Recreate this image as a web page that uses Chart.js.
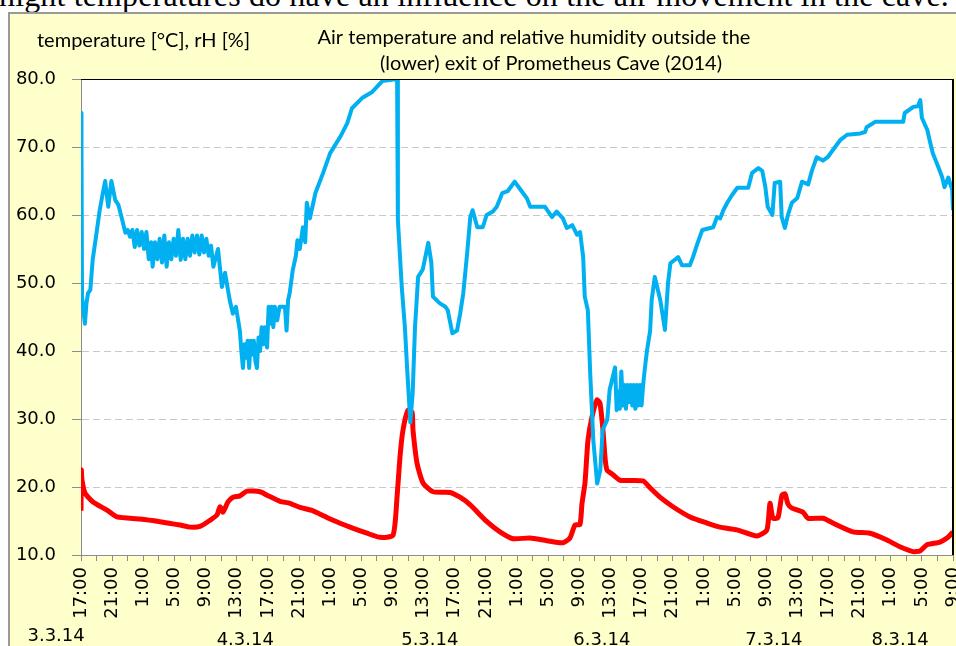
<!DOCTYPE html>
<html>
<head>
<meta charset="utf-8">
<script src="https://cdn.jsdelivr.net/npm/chart.js@4"></script>
<style>
  html, body { margin: 0; padding: 0; background: #fff; overflow: hidden; }
  #page { position: relative; width: 956px; height: 646px; overflow: hidden; }
  #prose { position: absolute; left: -1px; top: -21px; font: 32px "Liberation Serif", serif; line-height: 32px; white-space: nowrap; color: #000; letter-spacing: 0.15px; }
  #box { position: absolute; left: 8px; top: 12px; width: 960px; height: 640px; background: #FFFFCC; border-left: 2px solid #9a9a9a; border-top: 2px solid #9a9a9a; }
  #wrap { position: absolute; left: 10px; top: 14px; width: 946px; height: 632px; }
</style>
</head>
<body>
<div id="page">
  <div id="prose">night temperatures do have an influence on the air movement in the cave.</div>
  <div id="box"></div>
  <div id="wrap"><canvas id="chart" width="946" height="632"></canvas></div>
</div>
<script>
// hours counted from 3.3.14 17:00
const startHour = 17;
const rhHours = [0,0.06,0.13,0.26,0.5,0.7,0.9,1.2,1.5,2.0,2.4,2.8,3.1,3.5,3.9,4.4,4.8,5.2,5.7,6.0,6.3,6.6,6.9,7.2,7.5,7.8,8.1,8.4,8.7,9.0,9.2,9.5,9.8,10.1,10.4,10.7,11.0,11.3,11.6,11.9,12.2,12.5,12.8,13.1,13.4,13.7,14.0,14.3,14.6,14.9,15.2,15.5,15.8,16.1,16.4,16.7,17.0,17.6,18.1,18.5,19.1,19.5,19.9,20.4,20.6,20.8,21.0,21.2,21.4,21.6,21.8,22.0,22.2,22.4,22.6,22.8,23.0,23.2,23.4,23.6,23.9,24.1,24.3,24.5,24.7,24.9,25.2,25.5,25.9,26.2,26.4,26.6,26.8,27.2,27.6,27.8,28.1,28.5,28.8,29.0,29.4,30.1,31.1,32.0,33.3,34.2,34.8,36.1,37.4,38.7,40.6,40.7,41.2,41.6,41.9,42.3,42.6,42.9,43.3,43.9,44.6,45.0,45.2,46.1,46.8,47.1,47.7,48.3,48.7,49.1,49.6,50.0,50.3,50.9,51.6,52.1,52.9,53.4,54.1,54.8,55.7,56.6,57.3,57.7,59.6,60.5,61.1,61.9,62.4,63.1,63.7,64.1,64.5,64.7,65.1,65.4,65.8,66.3,66.7,67.0,67.6,67.9,68.6,68.8,69.0,69.2,69.4,69.6,69.8,70.0,70.2,70.4,70.6,70.8,71.0,71.2,71.4,71.6,71.8,72.0,72.2,72.4,72.7,73.1,73.3,73.7,74.4,75.0,75.4,75.7,76.7,77.2,78.2,78.6,79.2,79.8,81.2,81.7,82.1,82.5,83.0,83.6,84.3,85.7,86.2,87.0,87.5,87.9,88.2,88.8,89.1,89.8,90.0,90.4,90.8,91.3,92.0,92.6,93.4,93.9,94.5,95.3,95.9,96.6,97.5,98.4,100.1,100.7,100.9,102.0,105.6,105.8,106.9,107.5,107.8,108.0,108.7,109.0,109.4,110.1,110.6,110.9,111.4,111.9,112];
const rhValues = [75,71,48,46.5,44,47,48.5,49,53.4,57.4,60.7,63.2,65,61.2,65,62.2,61.5,59.7,57.4,57.8,56.8,57.8,55.3,57.8,55.5,57.5,55,57.5,53.5,56,52.4,56,53.5,56.5,53,57,52.4,56,53.5,56.5,54,57.8,53.4,56.5,53.5,56.5,54,57,54.5,57,54.2,57,54.5,56.5,54,55.5,52.4,55,49.4,51.5,47.5,45.5,46.5,43,40,37.5,41,39,41.5,37.5,41.5,39.5,41.5,38.5,37.5,42,40,43.5,41,43.5,40.5,46.5,44,46.5,43.5,46.5,44.5,46.5,46.5,46.5,43,47.5,48.5,51.9,54,56.3,55,58.2,56,61.8,59.5,63.2,66.2,69.1,71.5,73.5,75.7,77.2,78.1,79.7,80,59.3,49.4,43.5,37.2,29.5,33.8,43.5,50.9,52,55.9,53,48,47,46.5,46,42.6,43,45.5,48.5,54.4,59.7,60.7,58.2,58.2,60,60.5,61.2,63.2,63.5,64.9,63.5,62.4,61.2,61.2,59.7,60.5,59.5,58.1,58.5,57.1,57.5,53.8,48,46,36.8,26.9,20.5,22.5,28.4,29.9,34.3,37.6,31.3,34,31.5,37,32,35,31.5,35,32.5,35,32,35,31.5,35,32,35,32,35,37.2,40.1,43,47.5,50.9,47.5,43.1,50,52.9,53.8,52.6,52.6,53.8,55.9,57.8,58.2,59.7,59.5,60.7,61.8,62.9,64,64,66.2,66.9,66.5,64.1,61.2,60,64.7,64.9,59.7,58.1,60,61.8,62.5,64.9,64.5,66.6,68.5,68,68.5,69.6,71,71.8,72,72.2,72.9,73.7,73.7,75,75.9,76,76.9,74.3,72.5,71,69.1,67.1,65.6,64.1,65.5,63.7,60.7];
const tempHours = [0,0.04,0.13,0.51,1.54,3.34,4.62,7.58,10.15,12.72,14.0,15.28,16.57,17.47,17.85,18.24,18.88,19.52,20.42,21.32,22.99,23.89,25.56,26.84,28.13,29.8,32.37,34.55,36.73,38.4,40.07,40.59,40.97,41.36,42.0,42.52,42.64,43.16,43.93,45.21,47.39,48.68,49.96,52.14,53.81,55.48,57.67,59.85,61.91,62.8,63.45,64.09,64.35,64.73,65.12,65.63,66.27,66.66,67.04,67.3,67.56,68.33,69.23,72.18,73.08,74.36,76.03,78.22,80.4,82.07,84.25,86.82,88.1,88.49,88.88,89.52,90.03,90.42,90.8,91.31,92.72,93.37,95.3,96.58,99.15,101.33,103.52,105.19,106.86,107.76,108.66,110.33,111.36,112];
const tempValues = [16.5,22.5,21,19.1,17.8,16.6,15.6,15.3,14.9,14.4,14.1,14.2,15.1,15.9,17.1,16.3,17.8,18.5,18.7,19.4,19.3,18.8,17.9,17.6,17.0,16.5,15.1,14.1,13.2,12.6,12.9,18.5,24.4,28.4,31.3,31,28.4,23.5,20.6,19.3,19.2,18.5,17.4,14.9,13.4,12.4,12.5,12.1,11.8,12.5,14.4,14.5,17.6,20.6,26.9,30.3,32.8,32.3,28.4,24.4,22.5,21.8,21.0,20.9,19.9,18.5,17.1,15.6,14.7,14.1,13.7,12.8,13.7,17.6,15.4,15.5,18.8,19.0,17.5,16.9,16.3,15.4,15.4,14.7,13.4,13.2,12.2,11.2,10.5,10.6,11.5,11.9,12.6,13.4];
const yTicks = [10, 20, 30, 40, 50, 60, 70, 80];
// multi-level date labels and where Excel placed them (hours from start)
const dateLabels = ['3.3.14', '4.3.14', '5.3.14', '6.3.14', '7.3.14', '8.3.14'];
const dateLabelHours = [-3.2, 21.1, 44.8, 66.9, 89.0, 105.2];

const BLUE = '#00B0F0';
const RED = '#FF0000';
const axisFont = { family: 'DejaVu Sans', size: 18 };
const textFont = '"Lato", sans-serif';

const chartText = {
  id: 'chartText',
  beforeDraw(chart) {
    // white plot area on the yellow chart box
    const a = chart.chartArea;
    chart.ctx.save();
    chart.ctx.fillStyle = '#fff';
    chart.ctx.fillRect(a.left, a.top, a.right - a.left, a.bottom - a.top);
    chart.ctx.restore();
  },
  afterDraw(chart) {
    const ctx = chart.ctx;
    const a = chart.chartArea;
    const xs = chart.scales.x;
    ctx.save();
    // plot frame: black top and right
    ctx.strokeStyle = '#000';
    ctx.lineWidth = 1;
    ctx.beginPath();
    ctx.moveTo(a.left, a.top + 0.5);
    ctx.lineTo(a.right, a.top + 0.5);
    ctx.stroke();
    ctx.lineWidth = 2;
    ctx.beginPath();
    ctx.moveTo(a.right, a.top);
    ctx.lineTo(a.right, a.bottom);
    ctx.stroke();

    ctx.fillStyle = '#000';
    ctx.textBaseline = 'middle';
    ctx.font = '20px ' + textFont;
    ctx.textAlign = 'left';
    ctx.fillText('temperature [\u00B0C], rH [%]', 27, 27);
    ctx.textAlign = 'center';
    ctx.fillText('Air temperature and relative humidity outside the', 524, 24);
    ctx.fillText('(lower) exit of Prometheus Cave (2014)', 541, 50);

    ctx.font = '18px "DejaVu Sans"';
    dateLabels.forEach((d, i) => {
      ctx.fillText(d, xs.getPixelForValue(dateLabelHours[i]), i === 0 ? 622 : 626);
    });
    ctx.restore();
  }
};

new Chart(document.getElementById('chart'), {
  type: 'line',
  data: {
    datasets: [
      {
        label: 'rH',
        data: rhHours.map((h, i) => ({ x: h, y: rhValues[i] })),
        borderColor: BLUE,
        borderWidth: 4,
        pointRadius: 0,
        tension: 0,
        borderJoinStyle: 'round'
      },
      {
        label: 'temperature',
        data: tempHours.map((h, i) => ({ x: h, y: tempValues[i] })),
        borderColor: RED,
        borderWidth: 5,
        pointRadius: 0,
        tension: 0.2,
        borderJoinStyle: 'round'
      }
    ]
  },
  options: {
    responsive: false,
    animation: false,
    layout: { padding: { top: 65, right: 3, left: 0, bottom: 0 } },
    plugins: { legend: { display: false }, tooltip: { enabled: false } },
    scales: {
      x: {
        type: 'linear',
        min: 0,
        max: 112,
        afterFit(s) { s.height = 91; s.paddingLeft = 0; s.paddingRight = 0; },
        afterBuildTicks(s) {
          s.ticks = [];
          for (let v = 0; v <= 112; v += 2) s.ticks.push({ value: v });
        },
        ticks: {
          autoSkip: false,
          minRotation: 90,
          maxRotation: 90,
          padding: 6,
          color: '#000',
          font: axisFont,
          callback: v => (v % 4 === 0 ? ((startHour + v) % 24) + ':00' : '')
        },
        grid: { drawOnChartArea: false, tickLength: 6, tickColor: '#8c8c8c' },
        border: { color: '#8c8c8c', width: 1 }
      },
      y: {
        min: 10,
        max: 80,
        afterFit(s) { s.width = 71; s.paddingTop = 0; s.paddingBottom = 0; },
        afterBuildTicks(s) { s.ticks = yTicks.map(v => ({ value: v })); },
        ticks: {
          padding: 16,
          color: '#000',
          font: axisFont,
          callback: v => v.toFixed(1)
        },
        grid: { color: '#c8c8c8', tickColor: '#8c8c8c', tickLength: 9, lineWidth: 1 },
        border: { color: '#8c8c8c', width: 1, dash: [7, 4] }
      }
    }
  },
  plugins: [chartText]
});
</script>
</body>
</html>
